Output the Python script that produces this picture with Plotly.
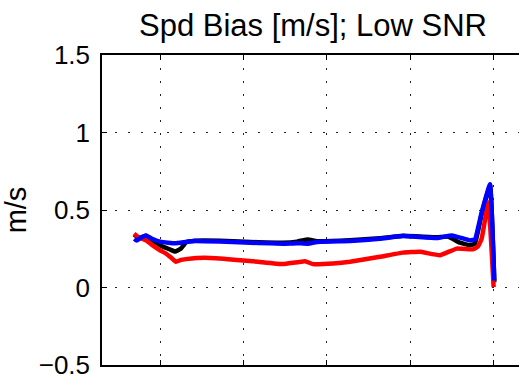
import plotly.graph_objects as go

title_text = "Spd Bias [m/s]; Low SNR"
y_label = "m/s"
y_ticks = [-0.5, 0, 0.5, 1, 1.5]
y_tick_labels = ["\u22120.5", "0", "0.5", "1", "1.5"]
x_ticks = [10, 20, 30, 40, 50]

black_x = [6.89, 7.25, 7.69, 8.32, 9.16, 10.24, 11.2, 11.8, 12.51, 13.11, 14.19, 17.19,
           21.74, 24.73, 26.41, 27.72, 28.8, 32.75, 36.35, 39.1, 43.17, 44.49, 45.93,
           47.13, 47.72, 48.53, 49.52, 50.04]
black_y = [0.342, 0.328, 0.321, 0.334, 0.302, 0.266, 0.245, 0.232, 0.252, 0.292, 0.302, 0.302,
           0.292, 0.289, 0.296, 0.310, 0.299, 0.305, 0.318, 0.334, 0.324, 0.328, 0.289,
           0.272, 0.283, 0.474, 0.660, 0.034]

red_x = [6.89, 7.37, 8.32, 9.16, 10.0, 10.72, 11.32, 11.92, 12.51, 13.11, 15.39, 18.14,
         21.74, 24.73, 27.37, 28.32, 30.72, 32.75, 36.35, 39.1, 41.14, 43.53, 45.53,
         47.49, 48.08, 48.53, 49.32, 49.96]
red_y = [0.347, 0.326, 0.304, 0.270, 0.240, 0.219, 0.193, 0.166, 0.178, 0.183, 0.192, 0.183,
         0.166, 0.151, 0.170, 0.151, 0.155, 0.166, 0.198, 0.225, 0.230, 0.208, 0.251,
         0.246, 0.264, 0.315, 0.549, 0.002]

blue_x = [6.93, 7.2, 7.69, 8.32, 9.04, 10.12, 11.8, 13.11, 14.19, 17.19, 21.74, 24.73,
          26.41, 27.72, 28.8, 32.75, 36.35, 39.1, 43.17, 44.97, 47.13, 47.72, 48.53,
          49.52, 50.04]
blue_y = [0.315, 0.304, 0.321, 0.336, 0.315, 0.294, 0.285, 0.294, 0.300, 0.296, 0.287, 0.283,
          0.286, 0.283, 0.294, 0.300, 0.315, 0.332, 0.319, 0.336, 0.304, 0.310, 0.485,
          0.666, 0.045]

FONT = "Liberation Sans, Arial, Helvetica, sans-serif"

fig = go.Figure()
for xs, ys, col in [(black_x, black_y, "#000000"), (red_x, red_y, "#ff0000"), (blue_x, blue_y, "#0000ff")]:
    fig.add_trace(go.Scatter(x=xs, y=ys, mode="lines",
                             line=dict(color=col, width=4.5, shape="spline", smoothing=0.3),
                             showlegend=False, hoverinfo="skip"))

fig.update_layout(
    width=519, height=380,
    margin=dict(l=102, r=0, t=55, b=12),
    paper_bgcolor="white", plot_bgcolor="white",
    font=dict(family=FONT, color="black"),
    title=dict(text=title_text, x=313 / 519, xanchor="center",
               y=1 - 25 / 380, yanchor="middle", yref="container",
               font=dict(size=31, family=FONT, color="black")),
)
fig.update_xaxes(range=[3.05, 53.0], tickvals=x_ticks, showticklabels=False,
                 showgrid=True, gridcolor="#222222", gridwidth=1, griddash="2px,11px",
                 showline=True, linecolor="black", linewidth=1.5, mirror="ticks",
                 ticks="inside", ticklen=5, tickcolor="black", zeroline=False)
fig.update_yaxes(range=[-0.5, 1.5], tickvals=y_ticks, ticktext=y_tick_labels,
                 tickfont=dict(size=26, family=FONT, color="black"),
                 ticklabeloverflow="allow", ticklabelstandoff=5,
                 showgrid=True, gridcolor="#222222", gridwidth=1, griddash="2px,11px",
                 showline=True, linecolor="black", linewidth=1.5, mirror=False,
                 ticks="inside", ticklen=5, tickcolor="black", zeroline=False,
                 title=dict(text=y_label, font=dict(size=29, family=FONT, color="black"),
                            standoff=12))
fig.write_html("out.html")
